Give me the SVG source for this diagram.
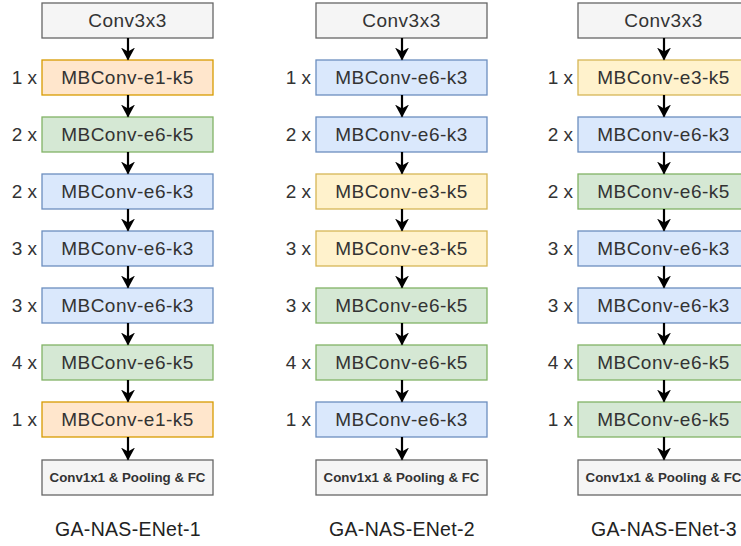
<svg xmlns="http://www.w3.org/2000/svg" width="741" height="546" viewBox="0 0 741 546">
<style>
  .box { stroke-width: 1.3; }
  .gray { fill: #f5f5f5; stroke: #666666; }
  .orange { fill: #ffe6cc; stroke: #d79b00; }
  .green { fill: #d5e8d4; stroke: #82b366; }
  .blue { fill: #dae8fc; stroke: #6c8ebf; }
  .yellow { fill: #fff2cc; stroke: #d6b656; }
  text { font-family: "Liberation Sans", Arial, sans-serif; fill: #333333; }
  .lbl { font-size: 19px; letter-spacing: 0.5px; text-anchor: middle; dominant-baseline: central; }
  .mul { font-size: 19px; text-anchor: end; dominant-baseline: central; }
  .fc { font-size: 13.3px; font-weight: bold; text-anchor: middle; dominant-baseline: central; }
  .title { font-size: 19.5px; letter-spacing: 0.3px; text-anchor: middle; fill: #222222; }
  .arrow { stroke: #000000; stroke-width: 2.2; fill: none; marker-end: url(#head); }
</style>
<defs>
  <marker id="head" viewBox="0 0 13 14" refX="12" refY="7" markerWidth="13" markerHeight="14" markerUnits="userSpaceOnUse" orient="auto">
    <path d="M0,0 L13,7 L0,14 L4,7 Z" fill="#000000"/>
  </marker>
</defs>

<!-- Column 1 -->
<g id="net1">
  <g id="n1-stem"><rect class="box gray" x="42" y="3" width="171" height="35"/><text class="lbl" x="127.5" y="20.5">Conv3x3</text></g>
  <g id="n1-b1"><rect class="box orange" x="42" y="60" width="171" height="35"/><text class="lbl" x="127.5" y="77.5">MBConv-e1-k5</text><text class="mul" x="37" y="77.5">1 x</text></g>
  <g id="n1-b2"><rect class="box green" x="42" y="117" width="171" height="35"/><text class="lbl" x="127.5" y="134.5">MBConv-e6-k5</text><text class="mul" x="37" y="134.5">2 x</text></g>
  <g id="n1-b3"><rect class="box blue" x="42" y="174" width="171" height="35"/><text class="lbl" x="127.5" y="191.5">MBConv-e6-k3</text><text class="mul" x="37" y="191.5">2 x</text></g>
  <g id="n1-b4"><rect class="box blue" x="42" y="231" width="171" height="35"/><text class="lbl" x="127.5" y="248.5">MBConv-e6-k3</text><text class="mul" x="37" y="248.5">3 x</text></g>
  <g id="n1-b5"><rect class="box blue" x="42" y="288" width="171" height="35"/><text class="lbl" x="127.5" y="305.5">MBConv-e6-k3</text><text class="mul" x="37" y="305.5">3 x</text></g>
  <g id="n1-b6"><rect class="box green" x="42" y="345" width="171" height="35"/><text class="lbl" x="127.5" y="362.5">MBConv-e6-k5</text><text class="mul" x="37" y="362.5">4 x</text></g>
  <g id="n1-b7"><rect class="box orange" x="42" y="402" width="171" height="35"/><text class="lbl" x="127.5" y="419.5">MBConv-e1-k5</text><text class="mul" x="37" y="419.5">1 x</text></g>
  <g id="n1-head"><rect class="box gray" x="42" y="460" width="171" height="35"/><text class="fc" x="127.5" y="477.5">Conv1x1 &amp; Pooling &amp; FC</text></g>
  <text class="title" x="128" y="536">GA-NAS-ENet-1</text>
</g>

<!-- Column 2 -->
<g id="net2">
  <g id="n2-stem"><rect class="box gray" x="316" y="3" width="171" height="35"/><text class="lbl" x="401.5" y="20.5">Conv3x3</text></g>
  <g id="n2-b1"><rect class="box blue" x="316" y="60" width="171" height="35"/><text class="lbl" x="401.5" y="77.5">MBConv-e6-k3</text><text class="mul" x="311" y="77.5">1 x</text></g>
  <g id="n2-b2"><rect class="box blue" x="316" y="117" width="171" height="35"/><text class="lbl" x="401.5" y="134.5">MBConv-e6-k3</text><text class="mul" x="311" y="134.5">2 x</text></g>
  <g id="n2-b3"><rect class="box yellow" x="316" y="174" width="171" height="35"/><text class="lbl" x="401.5" y="191.5">MBConv-e3-k5</text><text class="mul" x="311" y="191.5">2 x</text></g>
  <g id="n2-b4"><rect class="box yellow" x="316" y="231" width="171" height="35"/><text class="lbl" x="401.5" y="248.5">MBConv-e3-k5</text><text class="mul" x="311" y="248.5">3 x</text></g>
  <g id="n2-b5"><rect class="box green" x="316" y="288" width="171" height="35"/><text class="lbl" x="401.5" y="305.5">MBConv-e6-k5</text><text class="mul" x="311" y="305.5">3 x</text></g>
  <g id="n2-b6"><rect class="box green" x="316" y="345" width="171" height="35"/><text class="lbl" x="401.5" y="362.5">MBConv-e6-k5</text><text class="mul" x="311" y="362.5">4 x</text></g>
  <g id="n2-b7"><rect class="box blue" x="316" y="402" width="171" height="35"/><text class="lbl" x="401.5" y="419.5">MBConv-e6-k3</text><text class="mul" x="311" y="419.5">1 x</text></g>
  <g id="n2-head"><rect class="box gray" x="316" y="460" width="171" height="35"/><text class="fc" x="401.5" y="477.5">Conv1x1 &amp; Pooling &amp; FC</text></g>
  <text class="title" x="402" y="536">GA-NAS-ENet-2</text>
</g>

<!-- Column 3 -->
<g id="net3">
  <g id="n3-stem"><rect class="box gray" x="578" y="3" width="171" height="35"/><text class="lbl" x="663.5" y="20.5">Conv3x3</text></g>
  <g id="n3-b1"><rect class="box yellow" x="578" y="60" width="171" height="35"/><text class="lbl" x="663.5" y="77.5">MBConv-e3-k5</text><text class="mul" x="573" y="77.5">1 x</text></g>
  <g id="n3-b2"><rect class="box blue" x="578" y="117" width="171" height="35"/><text class="lbl" x="663.5" y="134.5">MBConv-e6-k3</text><text class="mul" x="573" y="134.5">2 x</text></g>
  <g id="n3-b3"><rect class="box green" x="578" y="174" width="171" height="35"/><text class="lbl" x="663.5" y="191.5">MBConv-e6-k5</text><text class="mul" x="573" y="191.5">2 x</text></g>
  <g id="n3-b4"><rect class="box blue" x="578" y="231" width="171" height="35"/><text class="lbl" x="663.5" y="248.5">MBConv-e6-k3</text><text class="mul" x="573" y="248.5">3 x</text></g>
  <g id="n3-b5"><rect class="box blue" x="578" y="288" width="171" height="35"/><text class="lbl" x="663.5" y="305.5">MBConv-e6-k3</text><text class="mul" x="573" y="305.5">3 x</text></g>
  <g id="n3-b6"><rect class="box green" x="578" y="345" width="171" height="35"/><text class="lbl" x="663.5" y="362.5">MBConv-e6-k5</text><text class="mul" x="573" y="362.5">4 x</text></g>
  <g id="n3-b7"><rect class="box green" x="578" y="402" width="171" height="35"/><text class="lbl" x="663.5" y="419.5">MBConv-e6-k5</text><text class="mul" x="573" y="419.5">1 x</text></g>
  <g id="n3-head"><rect class="box gray" x="578" y="460" width="171" height="35"/><text class="fc" x="663.5" y="477.5">Conv1x1 &amp; Pooling &amp; FC</text></g>
  <text class="title" x="664" y="536">GA-NAS-ENet-3</text>
</g>

<!-- Connectors: one arrow between each pair of stacked blocks -->
<g id="connectors">
  <line class="arrow" x1="128" y1="38" x2="128" y2="59.5"/>
  <line class="arrow" x1="128" y1="95" x2="128" y2="116.5"/>
  <line class="arrow" x1="128" y1="152" x2="128" y2="173.5"/>
  <line class="arrow" x1="128" y1="209" x2="128" y2="230.5"/>
  <line class="arrow" x1="128" y1="266" x2="128" y2="287.5"/>
  <line class="arrow" x1="128" y1="323" x2="128" y2="344.5"/>
  <line class="arrow" x1="128" y1="380" x2="128" y2="401.5"/>
  <line class="arrow" x1="128" y1="437" x2="128" y2="459.5"/>

  <line class="arrow" x1="402" y1="38" x2="402" y2="59.5"/>
  <line class="arrow" x1="402" y1="95" x2="402" y2="116.5"/>
  <line class="arrow" x1="402" y1="152" x2="402" y2="173.5"/>
  <line class="arrow" x1="402" y1="209" x2="402" y2="230.5"/>
  <line class="arrow" x1="402" y1="266" x2="402" y2="287.5"/>
  <line class="arrow" x1="402" y1="323" x2="402" y2="344.5"/>
  <line class="arrow" x1="402" y1="380" x2="402" y2="401.5"/>
  <line class="arrow" x1="402" y1="437" x2="402" y2="459.5"/>

  <line class="arrow" x1="664" y1="38" x2="664" y2="59.5"/>
  <line class="arrow" x1="664" y1="95" x2="664" y2="116.5"/>
  <line class="arrow" x1="664" y1="152" x2="664" y2="173.5"/>
  <line class="arrow" x1="664" y1="209" x2="664" y2="230.5"/>
  <line class="arrow" x1="664" y1="266" x2="664" y2="287.5"/>
  <line class="arrow" x1="664" y1="323" x2="664" y2="344.5"/>
  <line class="arrow" x1="664" y1="380" x2="664" y2="401.5"/>
  <line class="arrow" x1="664" y1="437" x2="664" y2="459.5"/>
</g>
</svg>
